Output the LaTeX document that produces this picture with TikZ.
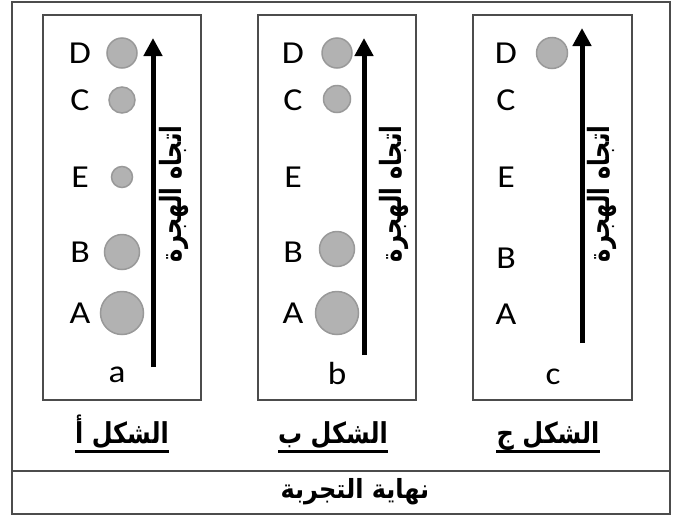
\documentclass[tikz,border=0pt]{standalone}
\usepackage{fontspec}
\setmainfont{Carlito}
\newfontfamily\arabicfont[Script=Arabic]{DejaVu Sans}
\TeXXeTstate=1
\usetikzlibrary{arrows.meta}

\tikzset{
  frame/.style={draw=black!70, line width=1.5pt},
  spot/.style={circle, fill=black!30, draw=black!40, line width=1.5pt,
               inner sep=0pt, minimum size=#1},
  lane/.style={font=\fontsize{32}{34}\selectfont, xscale=1.12, inner sep=0pt},
  tag/.style={font=\fontsize{32}{34}\selectfont, xscale=1.1, inner sep=0pt},
  flow/.style={line width=5pt, -{Triangle[width=18pt,length=18pt]}},
  flowlabel/.style={font=\arabicfont\bfseries\fontsize{22.5}{26}\selectfont,
                    rotate=90, yscale=1.3, inner sep=0pt},
  caption/.style={font=\arabicfont\bfseries\fontsize{24}{28}\selectfont,
                  yscale=1.2, inner sep=0pt, anchor=base},
  footer/.style={font=\arabicfont\bfseries\fontsize{24}{28}\selectfont,
                 yscale=1.1, inner sep=0pt},
  rule/.style={line width=3pt},
}

\begin{document}
\begin{tikzpicture}[x=1pt, y=-1pt]
  \useasboundingbox (0,0) rectangle (676,517);

  % outer frame and footer strip
  \draw[frame] (12,2) rectangle (670,514);
  \draw[frame] (12,471) -- (670,471);
  \node[footer] (end) at (355,492) {\beginR نهاية التجربة\endR};

  % height of the caption underlines
  \coordinate (ul) at (0,451);

  % plate a
  \draw[frame] (43,15) rectangle (201,400);
  \foreach \n/\y in {D/53, C/100, E/177, B/252, A/313}
    \node[lane] (la\n) at (80,\y) {\n};
  \node[spot=30pt] (sa4) at (122,53) {};
  \node[spot=26pt] (sa3) at (122,100) {};
  \node[spot=21pt] (sa5) at (122,177) {};
  \node[spot=35pt] (sa2) at (122,252) {};
  \node[spot=43pt] (sa1) at (122,313) {};
  \coordinate (fa0) at (153,367);
  \coordinate (fa1) at (153,38);
  \draw[flow] (fa0) -- (fa1);
  \node[flowlabel] (ta) at (174,194) {\beginR اتجاه الهجرة\endR};
  \node[tag] (na) at (117,375) {a};
  \node[caption] (ca) at (122,443) {\beginR الشكل أ\endR};
  \draw[rule] (ca.west |- ul) -- (ca.east |- ul);

  % plate b
  \draw[frame] (258,15) rectangle (416,400);
  \foreach \n/\y in {D/53, C/100, E/177, B/252, A/313}
    \node[lane] (lb\n) at (293,\y) {\n};
  \node[spot=30pt] (sb4) at (337,53) {};
  \node[spot=27pt] (sb3) at (337,99) {};
  \node[spot=35pt] (sb2) at (337,249) {};
  \node[spot=43pt] (sb1) at (337,313) {};
  \coordinate (fb0) at (364,355);
  \coordinate (fb1) at (364,38);
  \draw[flow] (fb0) -- (fb1);
  \node[flowlabel] (tb) at (394,194) {\beginR اتجاه الهجرة\endR};
  \node[tag] (nb) at (337,373) {b};
  \node[caption] (cb) at (333,443) {\beginR الشكل ب\endR};
  \draw[rule] (cb.west |- ul) -- (cb.east |- ul);

  % plate c
  \draw[frame] (473,15) rectangle (632,400);
  \foreach \n/\y in {D/53, C/100, E/177, B/258, A/314}
    \node[lane] (lc\n) at (506,\y) {\n};
  \node[spot=31pt] (sc4) at (552,53) {};
  \coordinate (fc0) at (582,343);
  \coordinate (fc1) at (582,28);
  \draw[flow] (fc0) -- (fc1);
  \node[flowlabel] (tc) at (602,194) {\beginR اتجاه الهجرة\endR};
  \node[tag] (nc) at (553,377) {c};
  \node[caption] (cc) at (548,443) {\beginR الشكل ج\endR};
  \draw[rule] (cc.west |- ul) -- (cc.east |- ul);
\end{tikzpicture}
\end{document}
